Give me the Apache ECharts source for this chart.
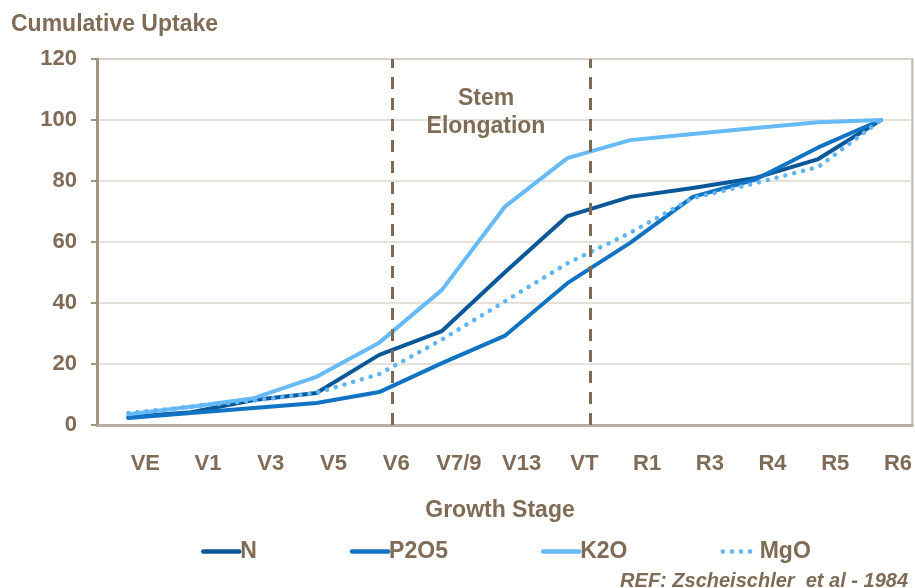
<!DOCTYPE html>
<html><head><meta charset="utf-8">
<script src="https://cdn.jsdelivr.net/npm/echarts@6/dist/echarts.min.js"></script>
<style>html,body{margin:0;padding:0;background:#fff}#c{width:915px;height:588px}</style>
</head><body><div id="c"></div>
<script>
const stages = ['VE','V1','V3','V5','V6','V7/9','V13','VT','R1','R3','R4','R5','R6'];
const nVals    = [2.6, 4.2, 8.2, 10.5, 23, 30.8, 50, 68.5, 74.8, 77.7, 81, 87.2, 100];
const p2o5Vals = [2.3, 3.9, 5.6, 7.2, 10.8, 20.3, 29.2, 46.5, 59.7, 74.8, 80.5, 91, 100];
const k2oVals  = [3.5, 6, 8.8, 15.8, 27, 44.3, 71.5, 87.5, 93.4, 95.4, 97.4, 99.3, 100];
const mgoVals  = [3.9, 6, 8, 10.5, 16.7, 28, 40.5, 53, 63, 74.4, 79.3, 84.6, 100];
const yTicks = [0, 20, 40, 60, 80, 100, 120];
const stemBounds = [4.2, 7.37];

const brown = '#7F6B56';
const font = 'Liberation Sans, Arial, sans-serif';
const chart = echarts.init(document.getElementById('c'));
function line(name, data, color, type, width) {
  return {
    name, type: 'line', data, symbol: 'none', xAxisIndex: 0, yAxisIndex: 0,
    lineStyle: { color, width: width || 4, type: type || 'solid', cap: 'round', join: 'round' },
    itemStyle: { color }
  };
}
chart.setOption({
  animation: false,
  textStyle: { fontFamily: font },
  grid: { left: 97, right: 2, top: 59, bottom: 163, show: true, borderColor: '#C2B7A9', borderWidth: 2 },
  title: [
    { text: 'Cumulative Uptake', left: 6, top: 8, textStyle: { fontFamily: font, fontSize: 23, fontWeight: 'bold', color: brown } },
    { text: 'Stem\nElongation', left: 481, top: 80, textAlign: 'center', textStyle: { fontFamily: font, fontSize: 23, fontWeight: 'bold', color: brown, lineHeight: 28 } },
    { text: 'Growth Stage', left: 495, top: 494, textAlign: 'center', textStyle: { fontFamily: font, fontSize: 23, fontWeight: 'bold', color: brown } },
    { text: 'REF: Zscheischler  et al - 1984', right: 2, top: 566, textStyle: { fontFamily: font, fontSize: 20, fontWeight: 'bold', fontStyle: 'italic', color: brown } }
  ],
  legend: {
    left: 196, top: 535, itemWidth: 36, itemHeight: 14, itemGap: 93,
    itemStyle: { opacity: 0 },
    lineStyle: { width: 4.5, cap: 'round' },
    textStyle: { fontFamily: font, fontSize: 23, fontWeight: 'bold', color: brown, padding: [0, 0, 0, -4] },
    data: ['N', 'P2O5', 'K2O', 'MgO'].map(n => ({ name: n, icon: 'inherit' }))
  },
  xAxis: [
    { type: 'category', data: stages, boundaryGap: true,
      axisLine: { lineStyle: { color: '#B9AD9F', width: 3 } }, axisTick: { show: false },
      axisLabel: { fontFamily: font, fontSize: 22, fontWeight: 'bold', color: brown, margin: 28, padding: [0, 0, 0, 34], interval: 0 } },
    { type: 'value', min: -0.5, max: 12.5, show: false }
  ],
  yAxis: {
    type: 'value', min: 0, max: 120, interval: 20,
    axisLine: { show: true, onZero: false, lineStyle: { color: '#A39480', width: 3 } },
    axisTick: { show: true, length: 6, lineStyle: { color: '#A39480', width: 2 } },
    splitLine: { lineStyle: { color: '#DDD8D0', width: 1.5 } },
    axisLabel: { fontFamily: font, fontSize: 22, fontWeight: 'bold', color: brown, margin: 20,
      formatter: v => yTicks.includes(v) ? String(v) : '' }
  },
  series: [
    line('N', nVals, '#0B5898'),
    line('P2O5', p2o5Vals, '#1173C3'),
    line('K2O', k2oVals, '#66BAF6'),
    line('MgO', mgoVals, '#5EB6F6', [0.1, 9], 4.5),
    { type: 'line', xAxisIndex: 1, yAxisIndex: 0, data: [], silent: true,
      markLine: { symbol: 'none', silent: true, label: { show: false },
        lineStyle: { color: '#7F6A55', width: 3, type: [12, 9] },
        data: stemBounds.map(x => [{ coord: [x, 0] }, { coord: [x, 120] }]) } }
  ]
});
</script></body></html>
